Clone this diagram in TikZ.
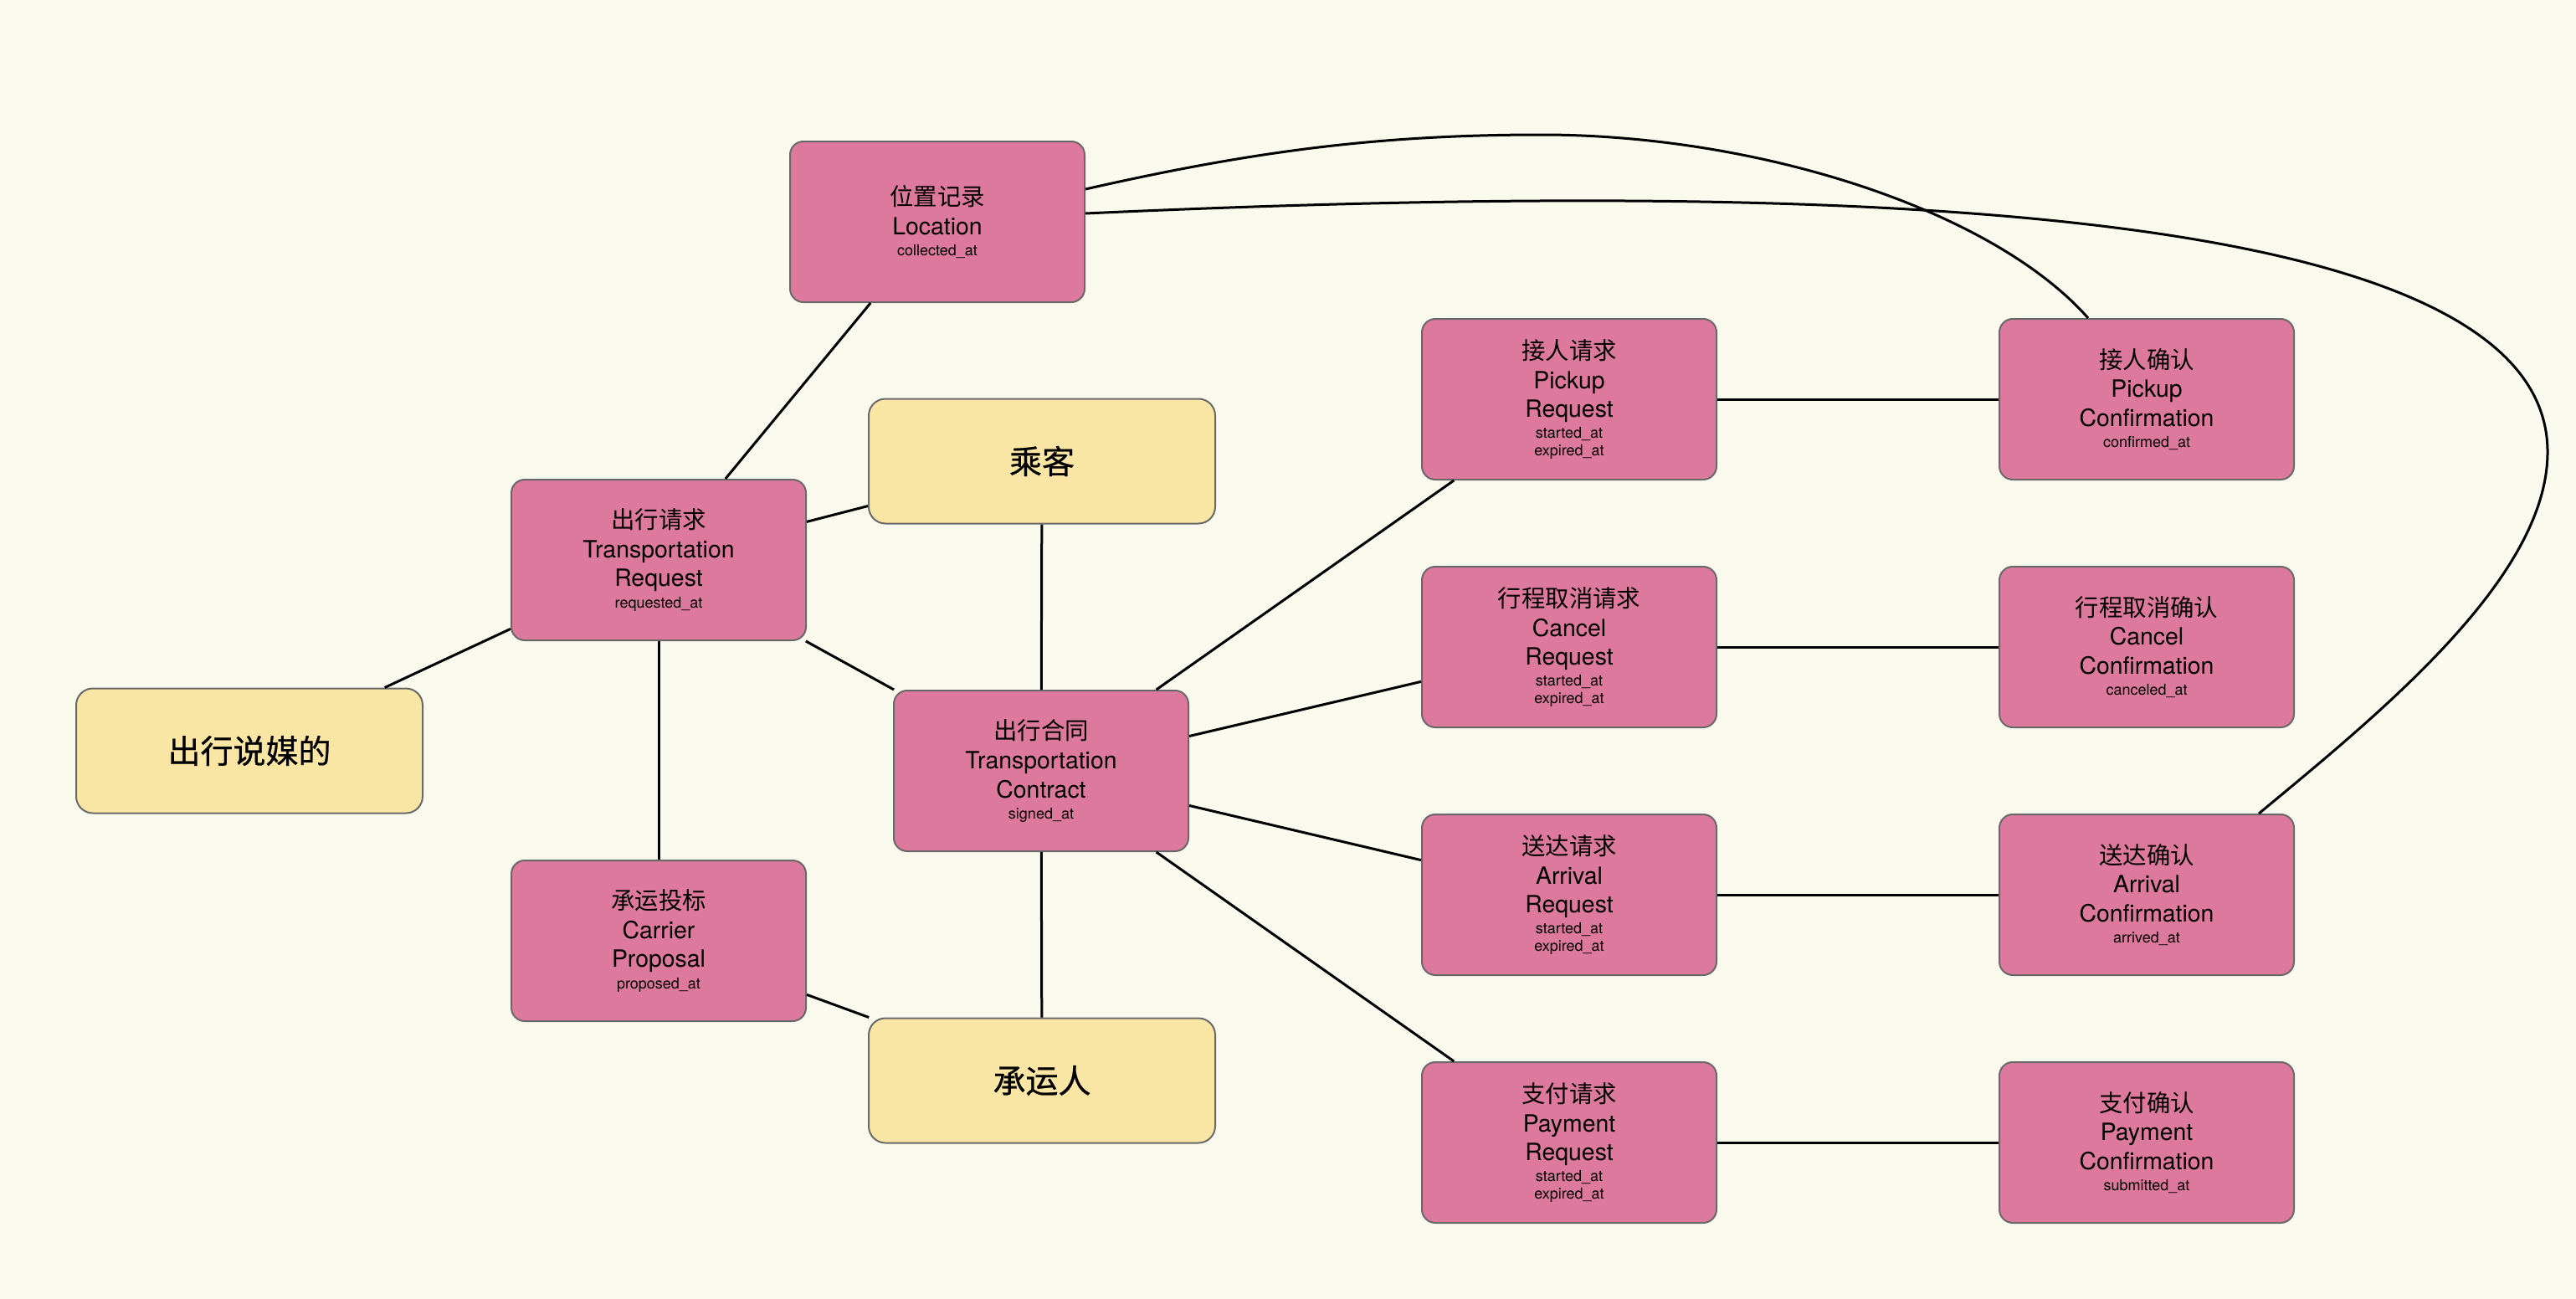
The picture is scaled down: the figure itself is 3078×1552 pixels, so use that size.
\documentclass[tikz,border=0pt]{standalone}
\usepackage{fontspec}
\setmainfont{TeX Gyre Heros}
\newfontfamily\cjk{Noto Sans CJK SC}
\newfontfamily\cjkheavy[FakeBold=0.6]{Noto Sans CJK SC}
\usetikzlibrary{calc}
\definecolor{bg}{RGB}{249,249,238}
\definecolor{pinkfill}{RGB}{222,121,158}
\definecolor{yellowfill}{RGB}{250,230,164}
\definecolor{bordergray}{RGB}{105,105,105}
\tikzset{
  entity/.style={draw=bordergray, line width=1pt, fill=pinkfill, rounded corners=8pt,
    minimum width=176pt, minimum height=96pt, inner sep=0pt, text width=170pt,
    align=center, font=\fontsize{14.2}{17.3}\selectfont},
  role/.style={draw=bordergray, line width=1pt, fill=yellowfill, rounded corners=10pt,
    minimum width=207pt, minimum height=74.5pt, inner sep=0pt, align=center,
    font=\cjkheavy\fontsize{19.5}{23}\selectfont},
  link/.style={draw=black, line width=1.5pt},
}
\newcommand\attr[1]{{\fontsize{9}{10.2}\selectfont #1\par}}
\begin{document}
\begin{tikzpicture}[x=0.5pt,y=-0.5pt]
\useasboundingbox (0,0) rectangle (3078,1552);
\fill[bg] (0,0) rectangle (3078,1552);

% nodes
\node[entity] (loc) at (1120,265) {{\cjk 位置记录}\\Location\\[2.4pt]\attr{collected\_at}};
\node[entity] (tr) at (787,669) {{\cjk 出行请求}\\Transportation\\Request\\[2.4pt]\attr{requested\_at}};
\node[role] (pas) at (1245,551) {乘客};
\node[role] (med) at (298,897) {出行说媒的};
\node[entity] (tc) at (1244,921) {{\cjk 出行合同}\\Transportation\\Contract\\[2.4pt]\attr{signed\_at}};
\node[entity] (cp) at (787,1124) {{\cjk 承运投标}\\Carrier\\Proposal\\[2.4pt]\attr{proposed\_at}};
\node[role] (car) at (1245,1291) {承运人};

\node[entity] (pr) at (1875,477) {{\cjk 接人请求}\\Pickup\\Request\\[2.4pt]\attr{started\_at\\expired\_at}};
\node[entity] (pc) at (2565,477) {{\cjk 接人确认}\\Pickup\\Confirmation\\[2.4pt]\attr{confirmed\_at}};
\node[entity] (cr) at (1875,773) {{\cjk 行程取消请求}\\Cancel\\Request\\[2.4pt]\attr{started\_at\\expired\_at}};
\node[entity] (cc) at (2565,773) {{\cjk 行程取消确认}\\Cancel\\Confirmation\\[2.4pt]\attr{canceled\_at}};
\node[entity] (ar) at (1875,1069) {{\cjk 送达请求}\\Arrival\\Request\\[2.4pt]\attr{started\_at\\expired\_at}};
\node[entity] (ac) at (2565,1069) {{\cjk 送达确认}\\Arrival\\Confirmation\\[2.4pt]\attr{arrived\_at}};
\node[entity] (yr) at (1875,1365) {{\cjk 支付请求}\\Payment\\Request\\[2.4pt]\attr{started\_at\\expired\_at}};
\node[entity] (yc) at (2565,1365) {{\cjk 支付确认}\\Payment\\Confirmation\\[2.4pt]\attr{submitted\_at}};

% straight connectors
\draw[link] (loc) -- (tr);
\draw[link] (tr) -- (med);
\draw[link] (tr) -- (pas);
\draw[link] (tr) -- (tc);
\draw[link] (tr) -- (cp);
\draw[link] (pas) -- (tc);
\draw[link] (tc) -- (car);
\draw[link] (cp) -- (car);
\draw[link] (tc) -- (pr);
\draw[link] (tc) -- (cr);
\draw[link] (tc) -- (ar);
\draw[link] (tc) -- (yr);
\draw[link] (pr) -- (pc);
\draw[link] (cr) -- (cc);
\draw[link] (ar) -- (ac);
\draw[link] (yr) -- (yc);

% curved connectors
\draw[link] ($(loc.east)+(0,-39)$) .. controls (1500,180) and (1650,161) .. (1842,161)
  .. controls (2100,161) and (2380,250) .. ($(pc.north)+(-70,0)$);
\draw[link] ($(loc.east)+(0,-10)$) .. controls (2197,214) and (3044,240) .. (3044,540)
  .. controls (3044,690) and (2845,851) .. ($(ac.north)+(134,0)$);
\end{tikzpicture}
\end{document}
